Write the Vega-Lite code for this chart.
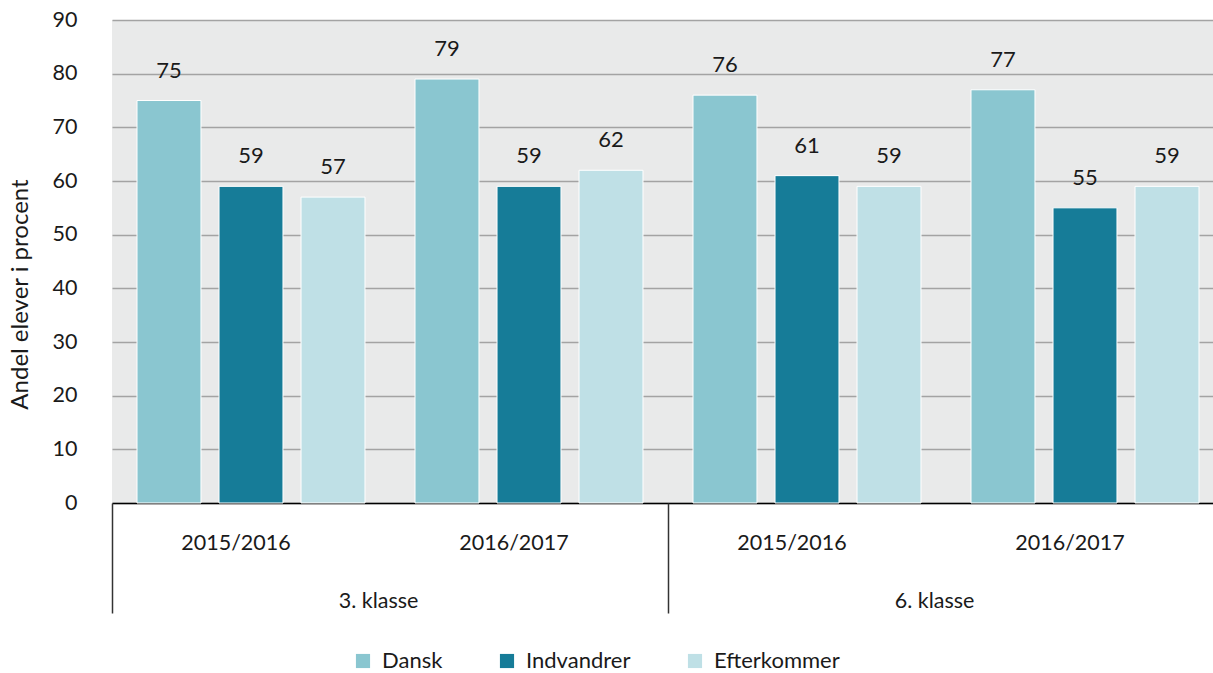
{
  "$schema": "https://vega.github.io/schema/vega-lite/v6.json",
  "autosize": {"type": "none"},
  "padding": {"left": 112, "top": 20, "right": 0, "bottom": 170},
  "width": 1101,
  "height": 483,
  "config": {
    "font": "Lato",
    "view": {"fill": "#e9eaea", "stroke": null},
    "axis": {"labelFont": "Lato", "titleFont": "Lato", "labelColor": "#1a1a1a", "titleColor": "#1a1a1a", "labelFontSize": 21.5, "titleFontSize": 24, "titleFontWeight": "normal"},
    "legend": {"labelFont": "Lato", "labelFontSize": 22, "labelColor": "#1a1a1a"}
  },
  "data": {
    "values": [
      {"klasse": "3. klasse", "grp": "3. klasse|2015/2016", "series": "Dansk", "value": 75},
      {"klasse": "3. klasse", "grp": "3. klasse|2015/2016", "series": "Indvandrer", "value": 59},
      {"klasse": "3. klasse", "grp": "3. klasse|2015/2016", "series": "Efterkommer", "value": 57},
      {"klasse": "3. klasse", "grp": "3. klasse|2016/2017", "series": "Dansk", "value": 79},
      {"klasse": "3. klasse", "grp": "3. klasse|2016/2017", "series": "Indvandrer", "value": 59},
      {"klasse": "3. klasse", "grp": "3. klasse|2016/2017", "series": "Efterkommer", "value": 62},
      {"klasse": "6. klasse", "grp": "6. klasse|2015/2016", "series": "Dansk", "value": 76},
      {"klasse": "6. klasse", "grp": "6. klasse|2015/2016", "series": "Indvandrer", "value": 61},
      {"klasse": "6. klasse", "grp": "6. klasse|2015/2016", "series": "Efterkommer", "value": 59},
      {"klasse": "6. klasse", "grp": "6. klasse|2016/2017", "series": "Dansk", "value": 77},
      {"klasse": "6. klasse", "grp": "6. klasse|2016/2017", "series": "Indvandrer", "value": 55},
      {"klasse": "6. klasse", "grp": "6. klasse|2016/2017", "series": "Efterkommer", "value": 59}
    ]
  },
  "layer": [
    {
      "encoding": {
        "x": {"field": "grp", "type": "nominal", "sort": "ascending",
          "scale": {"range": [0, 1112], "paddingInner": 0, "paddingOuter": 0},
          "axis": {"orient": "bottom", "title": null, "labelExpr": "split(datum.value, '|')[1]", "labelAngle": 0, "ticks": false, "labelPadding": 29, "labelOffset": -15, "domainColor": "#000000", "domainWidth": 1.5, "grid": false}},
        "xOffset": {"field": "series", "type": "nominal", "sort": ["Dansk", "Indvandrer", "Efterkommer"],
          "scale": {"paddingInner": 0.22, "paddingOuter": 0.305}},
        "y": {"field": "value", "type": "quantitative",
          "scale": {"domain": [0, 90], "nice": false},
          "axis": {"title": "Andel elever i procent", "values": [0,10,20,30,40,50,60,70,80,90], "ticks": false, "domain": false, "labelPadding": 35, "titlePadding": 20, "titleY": 274, "gridColor": "#a3a3a3", "gridWidth": 1.5}}
      },
      "layer": [
        {
          "mark": {"type": "bar", "stroke": "white", "strokeWidth": 1},
          "encoding": {
            "color": {"field": "series", "type": "nominal", "sort": ["Dansk", "Indvandrer", "Efterkommer"],
              "scale": {"domain": ["Dansk", "Indvandrer", "Efterkommer"], "range": ["#8ac6d0", "#167c98", "#bfe0e6"]},
              "legend": {"title": null, "orient": "none", "direction": "horizontal", "legendX": 240, "legendY": 630, "symbolType": "square", "symbolSize": 200, "symbolStrokeWidth": 0, "symbolOpacity": 1, "columnPadding": 53, "labelOffset": 8}}
          }
        },
        {
          "mark": {"type": "text", "baseline": "middle", "dy": -30, "fontSize": 22, "color": "#1a1a1a"},
          "encoding": {
            "text": {"field": "value", "type": "quantitative"}
          }
        }
      ]
    },
    {
      "mark": {"type": "text", "text": ""},
      "encoding": {
        "x": {"field": "klasse", "type": "nominal",
          "scale": {"range": [0, 1112], "paddingInner": 0, "paddingOuter": 0},
          "axis": {"orient": "bottom", "title": null, "labelAngle": 0, "domain": false, "ticks": true, "tickBand": "extent", "tickSize": 110, "tickColor": "#333333", "tickWidth": 1.5, "labelPadding": -23, "labelOffset": -12, "grid": false}}
      }
    }
  ],
  "resolve": {"scale": {"x": "independent"}, "axis": {"x": "independent"}}
}
